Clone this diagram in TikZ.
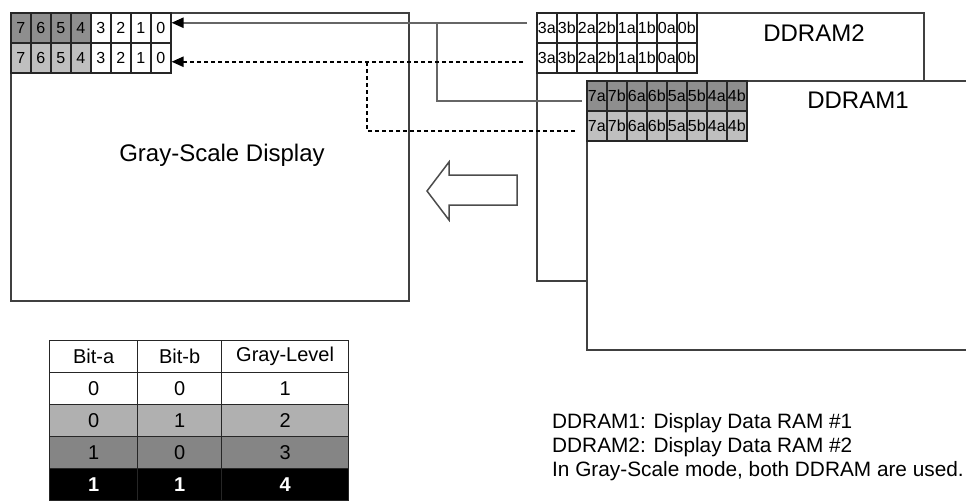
\documentclass[tikz,border=0pt]{standalone}
\usepackage{fontspec}
\setmainfont{Liberation Sans}
\usetikzlibrary{arrows.meta}

\definecolor{cellDark}{HTML}{8E8E8E}
\definecolor{cellLight}{HTML}{BFBFBF}
\definecolor{lvlTwo}{HTML}{B0B0B0}
\definecolor{lvlThree}{HTML}{858585}

\tikzset{
  panel/.style={draw=black!75, line width=1.5pt, fill=white, anchor=north west, inner sep=0pt},
  cell/.style={draw=black!85, fill=white, line width=1.5pt, minimum width=20pt, minimum height=30pt,
    inner sep=0pt, anchor=north west, font=\fontsize{16}{16}\selectfont},
  tcell/.style={draw=black!85, line width=1.2pt, minimum height=32pt, inner sep=0pt,
    anchor=north west, font=\fontsize{20}{20}\selectfont},
  wire/.style={draw=black!60, line width=2.2pt},
  dwire/.style={draw=black, line width=2.2pt, dash pattern=on 4pt off 3pt},
  tip/.style={-{Triangle[length=12pt,width=10pt,color=black]}},
  lvl1/.style={fill=white},
  lvl2/.style={fill=lvlTwo},
  lvl3/.style={fill=lvlThree},
  lvl4/.style={fill=black, text=white, font=\fontsize{20}{20}\selectfont\bfseries}
}

\begin{document}
\begin{tikzpicture}[x=1pt,y=-1pt]
  \useasboundingbox (0,0) rectangle (966,501);
  % Panels
  \node[panel, minimum width=398pt, minimum height=288pt] (gsd) at (10,12) {};
  \node[panel, minimum width=387pt, minimum height=268pt] (ram2) at (536,12) {};
  \node[panel, minimum width=400pt, minimum height=269pt] (ram1) at (586,80) {};
  \node[font=\fontsize{24}{24}\selectfont] (gsdlabel) at (222,155) {Gray-Scale Display};
  \node[font=\fontsize{24}{24}\selectfont] (ram2label) at (814,33) {DDRAM2};
  \node[font=\fontsize{24}{24}\selectfont] (ram1label) at (858,100) {DDRAM1};
  % Display cells
  \foreach \t/\f/\g [count=\i from 0] in {7/cellDark/cellLight,6/cellDark/cellLight,
      5/cellDark/cellLight,4/cellDark/cellLight,3/white/white,2/white/white,1/white/white,0/white/white} {
    \node[cell, fill=\f] (gsa\i) at (10+20*\i,12) {\t};
    \node[cell, fill=\g] (gsb\i) at (10+20*\i,42) {\t};
  }
  % DDRAM2 cells
  \foreach \t [count=\i from 0] in {3a,3b,2a,2b,1a,1b,0a,0b} {
    \node[cell] (d2a\i) at (536+20*\i,12) {\t};
    \node[cell] (d2b\i) at (536+20*\i,42) {\t};
  }
  % DDRAM1 cells
  \foreach \t [count=\i from 0] in {7a,7b,6a,6b,5a,5b,4a,4b} {
    \node[cell, fill=cellDark] (d1a\i) at (586+20*\i,80) {\t};
    \node[cell, fill=cellLight] (d1b\i) at (586+20*\i,110) {\t};
  }
  % Connectors
  \coordinate (joinA) at (437,22);
  \coordinate (joinB) at (367,61);
  \draw[wire, tip] ([xshift=-9pt,yshift=5pt]d2a0.west) -- ([yshift=5pt]gsa7.east);
  \draw[wire] ([xshift=-4pt,yshift=-5pt]d1a0.west) -| (joinA);
  \draw[dwire, tip] ([xshift=-13pt,yshift=-4pt]d2b0.west) -- ([yshift=-4pt]gsb7.east);
  \draw[dwire] ([xshift=-11pt,yshift=-5pt]d1b0.west) -| (joinB);
  % Hollow arrow
  \draw[draw=black!70, line width=1.5pt, fill=white] (427,191) -- (449,162) -- (449,175)
    -- (517,175) -- (517,205) -- (449,205) -- (449,220) -- cycle;
  % Gray-level table
  \foreach \ca/\cb/\cc/\lv [count=\r from 0] in {Bit-a/Bit-b/Gray-Level/lvl1, 0/0/1/lvl1,
      0/1/2/lvl2, 1/0/3/lvl3, 1/1/4/lvl4} {
    \node[tcell, \lv, minimum width=88pt] (tba\r) at (49,340+32*\r) {\ca};
    \node[tcell, \lv, minimum width=84pt] (tbb\r) at (137,340+32*\r) {\cb};
    \node[tcell, \lv, minimum width=127pt] (tbc\r) at (221,340+32*\r) {\cc};
  }
  % Notes
  \node[anchor=north west, align=left, inner sep=0pt, font=\fontsize{20.8}{24}\selectfont] (notes)
    at (552,413) {DDRAM1: Display Data RAM \#1\\DDRAM2: Display Data RAM \#2\\In Gray-Scale mode, both DDRAM are used.};
\end{tikzpicture}
\end{document}
